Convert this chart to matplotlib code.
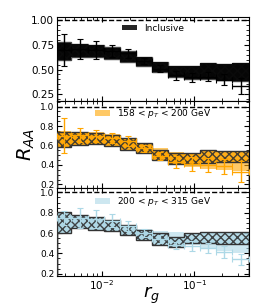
import numpy as np
import matplotlib
matplotlib.use("Agg")
import matplotlib.pyplot as plt
from matplotlib.ticker import MultipleLocator, FormatStrFormatter

# bin edges in r_g
rg_edges = [0.0033, 0.0047, 0.0071, 0.0106, 0.0158, 0.0238, 0.0353,
            0.052, 0.077, 0.114, 0.173, 0.258, 0.39]

# Inclusive
incl_data = [0.70, 0.71, 0.70, 0.69, 0.665, 0.59, 0.51, 0.44, 0.42, 0.425, 0.395, 0.33]
incl_err = [0.16, 0.10, 0.09, 0.06, 0.045, 0.03, 0.04, 0.05, 0.045, 0.045, 0.055, 0.08]
incl_sys_lo = [0.60, 0.63, 0.63, 0.61, 0.58, 0.535, 0.47, 0.425, 0.405, 0.40, 0.39, 0.385]
incl_sys_hi = [0.77, 0.755, 0.745, 0.72, 0.68, 0.625, 0.575, 0.535, 0.535, 0.565, 0.555, 0.565]
incl_th_lo = [0.595, 0.627, 0.627, 0.607, 0.576, 0.531, 0.47, 0.423, 0.403, 0.403, 0.396, 0.385]
incl_th_hi = [0.779, 0.759, 0.749, 0.725, 0.684, 0.627, 0.576, 0.538, 0.538, 0.566, 0.556, 0.566]

# 158 < pT < 200 GeV
mid_data = [0.70, 0.71, 0.70, 0.68, 0.645, 0.57, 0.49, 0.43, 0.41, 0.40, 0.385, 0.33]
mid_err = [0.18, 0.07, 0.06, 0.05, 0.055, 0.04, 0.04, 0.06, 0.07, 0.075, 0.075, 0.11]
mid_sys_lo = [0.58, 0.60, 0.62, 0.60, 0.57, 0.52, 0.46, 0.40, 0.38, 0.36, 0.35, 0.34]
mid_sys_hi = [0.75, 0.74, 0.74, 0.72, 0.68, 0.63, 0.57, 0.53, 0.51, 0.48, 0.47, 0.46]
mid_th_lo = [0.581, 0.606, 0.616, 0.591, 0.558, 0.524, 0.452, 0.411, 0.411, 0.422, 0.428, 0.428]
mid_th_hi = [0.734, 0.734, 0.73, 0.708, 0.673, 0.626, 0.558, 0.524, 0.524, 0.551, 0.544, 0.544]

# 200 < pT < 315 GeV
bot_data = [0.75, 0.75, 0.74, 0.72, 0.67, 0.60, 0.545, 0.48, 0.47, 0.45, 0.41, 0.34]
bot_err = [0.07, 0.10, 0.09, 0.065, 0.05, 0.04, 0.04, 0.035, 0.05, 0.05, 0.06, 0.055]
bot_sys_lo = [0.61, 0.64, 0.63, 0.62, 0.59, 0.54, 0.53, 0.50, 0.48, 0.44, 0.42, 0.40]
bot_sys_hi = [0.79, 0.77, 0.75, 0.73, 0.68, 0.64, 0.62, 0.61, 0.56, 0.53, 0.52, 0.50]
bot_th_lo = [0.598, 0.647, 0.631, 0.618, 0.582, 0.529, 0.484, 0.461, 0.50, 0.50, 0.49, 0.49]
bot_th_hi = [0.804, 0.778, 0.755, 0.729, 0.68, 0.631, 0.598, 0.565, 0.605, 0.611, 0.608, 0.608]

labels = ["Inclusive", "158 < $p_T$ < 200 GeV", "200 < $p_T$ < 315 GeV"]
colors = ["black", "orange", "lightblue"]

edges = np.array(rg_edges)
centers = np.sqrt(edges[:-1] * edges[1:])
xerr = np.vstack([centers - edges[:-1], edges[1:] - centers])

fig = plt.figure(figsize=(2.62, 3.06), dpi=100)
gs = fig.add_gridspec(3, 1, height_ratios=[83.7, 87.6, 87.4], hspace=0,
                      left=0.2176, right=0.9504, top=0.9444, bottom=0.099)
axes = [fig.add_subplot(gs[i]) for i in range(3)]

panels = [
    (incl_data, incl_err, incl_sys_lo, incl_sys_hi, incl_th_lo, incl_th_hi),
    (mid_data, mid_err, mid_sys_lo, mid_sys_hi, mid_th_lo, mid_th_hi),
    (bot_data, bot_err, bot_sys_lo, bot_sys_hi, bot_th_lo, bot_th_hi),
]
ylims = [(0.185, 1.03), (0.16, 1.06), (0.18, 1.04)]

for i, ax in enumerate(axes):
    d, e, slo, shi, tlo, thi = panels[i]
    c = colors[i]
    slo_s = np.append(slo, slo[-1]); shi_s = np.append(shi, shi[-1])
    tlo_s = np.append(tlo, tlo[-1]); thi_s = np.append(thi, thi[-1])
    if i == 0:
        ax.fill_between(edges, tlo_s, thi_s, step='post', facecolor='#2a2a2a',
                        edgecolor='#444444', hatch='xxxx', linewidth=0.0, zorder=2)
        ax.stairs(thi, edges, color='#444444', linewidth=1.0, zorder=2)
        ax.stairs(tlo, edges, color='#444444', linewidth=1.0, zorder=2)
        ax.fill_between(edges, slo_s, shi_s, step='post', color='black', alpha=0.85,
                        linewidth=0, zorder=3, label=labels[i])
    else:
        ax.fill_between(edges, slo_s, shi_s, step='post', color=c, alpha=0.6,
                        linewidth=0, zorder=2, label=labels[i])
        ax.fill_between(edges, tlo_s, thi_s, step='post', facecolor=c,
                        edgecolor='#333333', hatch='xxxx', linewidth=0.0, alpha=0.9, zorder=3)
        ax.stairs(thi, edges, color='#333333', linewidth=1.0, zorder=4)
        ax.stairs(tlo, edges, color='#333333', linewidth=1.0, zorder=4)
    ax.errorbar(centers, d, yerr=e, xerr=xerr, fmt='none', ecolor=c,
                elinewidth=1.0, capsize=2, capthick=0.8, zorder=5)
    ax.axhline(1.0, color='black', linestyle='--', linewidth=1.0, zorder=6)
    ax.set_xscale('log')
    ax.set_xlim(edges[0], edges[-1])
    ax.set_ylim(*ylims[i])
    ax.tick_params(which='both', direction='in', top=True, right=True, labelsize=7)
    ax.tick_params(axis='y', which='major', labelsize=7.5 if i == 0 else 6.5, pad=2)
    ax.tick_params(axis='x', which='major', labelsize=7.5, pad=1.5)
    ax.tick_params(which='major', length=3.5)
    ax.tick_params(which='minor', length=2)
    if i == 0:
        ax.yaxis.set_major_locator(MultipleLocator(0.25))
        ax.yaxis.set_minor_locator(MultipleLocator(0.05))
        ax.yaxis.set_major_formatter(FormatStrFormatter('%.2f'))
    else:
        ax.yaxis.set_major_locator(MultipleLocator(0.2))
        ax.yaxis.set_minor_locator(MultipleLocator(0.05))
        ax.yaxis.set_major_formatter(FormatStrFormatter('%.1f'))
    if i < 2:
        ax.tick_params(axis='x', which='both', labelbottom=False)
    ax.legend(loc='upper center', frameon=False, fontsize=6.5, handlelength=1.7,
              handleheight=0.6, borderaxespad=0.3, bbox_to_anchor=(0.5, 0.995))

axes[1].set_ylabel("$R_{AA}$", fontsize=14)
axes[1].yaxis.set_label_coords(-0.105, 0.5)
axes[2].set_xlabel("$r_g$", fontsize=13)
axes[2].xaxis.set_label_coords(0.49, -0.1)

fig.savefig("out.png", dpi=100)
